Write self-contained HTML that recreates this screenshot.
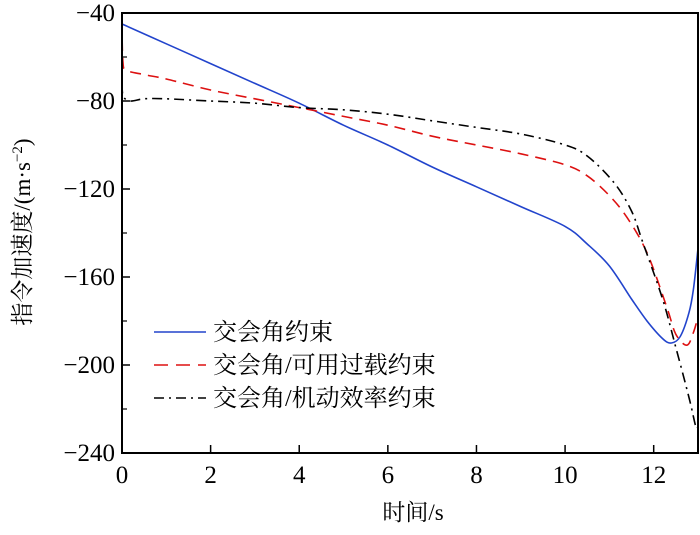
<!DOCTYPE html>
<html><head><meta charset="utf-8"><style>
body{margin:0;background:#fff;position:relative}
</style></head><body>
<svg id="chart" width="700" height="530" xmlns="http://www.w3.org/2000/svg"></svg>
<script>
const xTicks=[0,2,4,6,8,10,12];
const yTicks=[-40,-80,-120,-160,-200,-240];
const blueT=[0,1,2,3,4,5,6,7,8,9,10,10.5,11,11.5,11.85,12.2,12.4,12.6,12.8,12.9,13];
const blueV=[-45,-54,-63,-72,-81,-91,-100,-110,-119,-128,-137,-145,-155,-170,-180,-188,-190,-187,-176,-165,-147];
const redT=[0,0.02,0.1,0.5,1,2,3,4,5,6,7,8,9,10,10.5,11,11.4,11.85,12.3,12.5,12.75,12.9,13];
const redV=[-44,-62,-66,-68,-70,-75,-79,-83,-87,-91,-96,-100,-104,-109,-114,-123,-133,-149,-174,-186,-191,-185,-178];
const blackT=[0,0.03,0.2,0.5,1,2,3,4,5,6,7,8,9,10,10.5,11.1,11.5,11.75,12.2,12.5,12.8,12.95,13];
const blackV=[-72,-78,-80,-79,-79,-80,-81,-83,-84,-86,-89,-92,-95,-100,-105,-117,-130,-144,-170,-192,-215,-228,-228];
const svg=document.getElementById('chart');const NS='http://www.w3.org/2000/svg';
const SERIF='"Liberation Serif","Noto Serif CJK SC",serif';
const L=122,R=698,T=13,B=453;
const sx=v=>L+(v-0)*(R-L)/13;
const sy=v=>T+(-40-v)*(B-T)/200;
function mk(tag,attrs,parent){const e=document.createElementNS(NS,tag);for(const k in attrs)e.setAttribute(k,attrs[k]);(parent||svg).appendChild(e);return e;}
function smoothPath(pts){
 let d='M'+pts[0][0].toFixed(1)+','+pts[0][1].toFixed(1);
 for(let i=0;i<pts.length-1;i++){
  const p0=pts[Math.max(0,i-1)],p1=pts[i],p2=pts[i+1],p3=pts[Math.min(pts.length-1,i+2)];
  const c1=[p1[0]+(p2[0]-p0[0])/6,p1[1]+(p2[1]-p0[1])/6];
  const c2=[p2[0]-(p3[0]-p1[0])/6,p2[1]-(p3[1]-p1[1])/6];
  d+='C'+c1[0].toFixed(1)+','+c1[1].toFixed(1)+' '+c2[0].toFixed(1)+','+c2[1].toFixed(1)+' '+p2[0].toFixed(1)+','+p2[1].toFixed(1);
 }
 return d;
}
function series(ts,vs,color,dash,name){
 const pts=ts.map((t,i)=>[sx(t),sy(vs[i])]);
 const p=mk('path',{d:smoothPath(pts),fill:'none',stroke:color,'stroke-width':1.6,'stroke-dasharray':dash,'stroke-linejoin':'round'});
 
 
}
series(blueT,blueV,'#2244cc','none','series-intersection-angle');
series(redT,redV,'#dd1111','11,7','series-available-overload');
series(blackT,blackV,'#000','10,5,2,5','series-maneuver-efficiency');
const f=mk('rect',{x:L,y:T,width:R-L,height:B-T,fill:'none',stroke:'#000','stroke-width':2});


xTicks.forEach(v=>{const x=sx(v);mk('line',{x1:x,x2:x,y1:B,y2:B-8,stroke:'#000','stroke-width':1.5});
 const t=mk('text',{x:x,y:B+30,'font-size':25,'text-anchor':'middle','font-family':SERIF});t.textContent=v;
 
 });
yTicks.forEach((v,i)=>{const y=sy(v);mk('line',{x1:L,x2:L+8,y1:y,y2:y,stroke:'#000','stroke-width':1.5});
 if(i<yTicks.length-1)mk('line',{x1:L,x2:L+5,y1:sy(v-20),y2:sy(v-20),stroke:'#000','stroke-width':1.2});
 const t=mk('text',{x:L-7,y:y+8,'font-size':25,'text-anchor':'end','font-family':SERIF});t.textContent='\u2212'+Math.abs(v);
 
 });
</script>
<svg width="700" height="530" style="position:absolute;left:0;top:0" font-family='"Liberation Serif","Noto Serif CJK SC",serif'>
<text x="413" y="520" font-size="23" text-anchor="middle">时间/s</text>
<text transform="translate(30,232) rotate(-90)" font-size="23" text-anchor="middle">指令加速度/(m·s<tspan font-size="15" dy="-8">−2</tspan><tspan dy="8">)</tspan></text>
<g>
<line x1="154" x2="206" y1="332" y2="332" stroke="#2244cc" stroke-width="1.6"/>
<text x="213" y="340" font-size="24">交会角约束</text>
<line x1="154" x2="206" y1="365" y2="365" stroke="#dd1111" stroke-width="1.6" stroke-dasharray="14,8"/>
<text x="213" y="373" font-size="24">交会角/可用过载约束</text>
<line x1="154" x2="206" y1="398" y2="398" stroke="#000" stroke-width="1.6" stroke-dasharray="10,5,2,5"/>
<text x="213" y="406" font-size="24">交会角/机动效率约束</text>
</g>
</svg>
</body></html>
